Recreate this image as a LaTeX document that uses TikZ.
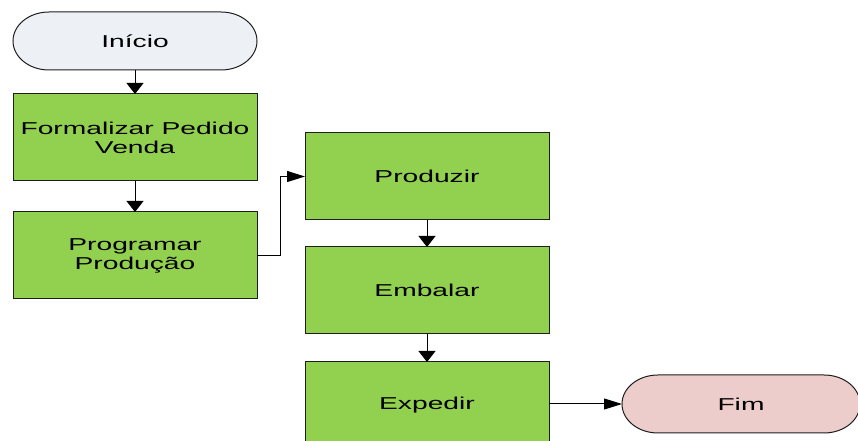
\documentclass[tikz,border=0pt]{standalone}
\usepackage{fontspec}
\setmainfont{Liberation Sans}[FakeStretch=1.64]
\usetikzlibrary{arrows.meta,backgrounds}

\definecolor{stepgreen}{HTML}{92D050}
\definecolor{startfill}{HTML}{EDF0F5}
\definecolor{endfill}{HTML}{EDCDCC}
\definecolor{edgecol}{HTML}{1E1E1E}

\tikzset{
  txt/.style={font=\fontsize{12.9pt}{14.25pt}\selectfont, align=center, text=black},
  stepbox/.style={txt, draw=edgecol, line width=0.75pt, fill=stepgreen,
    minimum width=183pt, minimum height=65.25pt, inner sep=0pt, outer sep=0pt},
  terminal/.style={txt, minimum width=183pt, minimum height=43.5pt, inner sep=0pt, outer sep=0pt},
  pill/.style={draw=edgecol, line width=0.75pt},
  conn/.style={draw=black, line width=0.75pt},
  downtip/.style={conn, -{Triangle[length=8.25pt, width=12.75pt]}},
  righttip/.style={conn, -{Triangle[length=13.5pt, width=8.25pt]}},
}

\begin{document}
\begin{tikzpicture}[x=0.75pt, y=-0.75pt]
  \useasboundingbox (0,0) rectangle (858,441);
  \clip (0,0) rectangle (858,441);

  % process steps
  \node[terminal] (inicio) at (135,41) {Início};
  \node[stepbox] (pedido) at (135,137.5) {Formalizar Pedido\\Venda};
  \node[stepbox] (programar) at (135,255.5) {Programar\\Produção};
  \node[stepbox] (produzir) at (427,176.5) {Produzir};
  \node[stepbox] (embalar) at (427,290.5) {Embalar};
  \node[stepbox] (expedir) at (427,405.5) {Expedir};
  \node[terminal, minimum width=178.5pt] (fim) at (741,404) {Fim};

  % pill outlines for the start and end terminals
  \begin{scope}[on background layer]
    \foreach \n/\c in {inicio/startfill, fim/endfill}{
      \draw[pill, fill=\c]
        ([xshift=27pt]\n.north west) -- ([xshift=-27pt]\n.north east)
        arc[start angle=90, end angle=-90, x radius=27pt, y radius=21.75pt]
        -- ([xshift=27pt]\n.south west)
        arc[start angle=270, end angle=90, x radius=27pt, y radius=21.75pt]
        -- cycle;
    }
  \end{scope}

  % connectors
  \coordinate (bend) at (280,255.5);
  \draw[downtip] (inicio.south) -- (pedido.north);
  \draw[downtip] (pedido.south) -- (programar.north);
  \draw[righttip] (programar.east) -- (bend) |- (produzir.west);
  \draw[downtip] (produzir.south) -- (embalar.north);
  \draw[downtip] (embalar.south) -- (expedir.north);
  \draw[righttip] (expedir.east |- fim.west) -- (fim.west);
\end{tikzpicture}
\end{document}
